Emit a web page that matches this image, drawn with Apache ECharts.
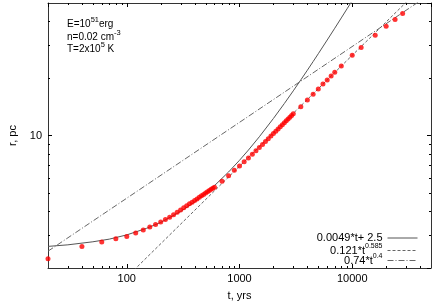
<!DOCTYPE html>
<html><head><meta charset="utf-8">
<script src="https://cdn.jsdelivr.net/npm/echarts@6/dist/echarts.min.js"></script>
<style>html,body{margin:0;padding:0;background:#fff}#c{width:436px;height:305px}</style>
</head><body><div id="c"></div>
<script>
// simulation points: time (yrs) and radius (pc)
const tYears = [20,40,60,80,100,120,140,160,180,200,220,240,260,280,300,320,340,360,380,400,420,440,460,480,500,520,540,560,580,600,
  700,800,900,1000,1100,1200,1300,1400,1500,1600,1700,1800,1900,2000,2100,2200,2300,2400,2500,2600,2700,2800,2900,3000,
  3500,4000,4500,5000,5500,6000,6500,7000,8000,10000,12000,16000,20000,24000,28000];
const rPc = [2.24,2.60,2.74,2.85,2.93,3.06,3.17,3.29,3.39,3.50,3.61,3.71,3.82,3.94,4.05,4.16,4.26,4.36,4.45,4.54,4.63,4.72,4.81,4.89,4.97,5.05,5.12,5.20,5.27,5.34,
  5.73,6.14,6.55,6.91,7.26,7.62,7.96,8.30,8.64,8.96,9.30,9.62,9.93,10.24,10.53,10.83,11.12,11.40,11.68,11.95,12.22,12.48,12.75,13.02,
  14.19,15.38,16.48,17.58,18.68,19.62,20.60,21.54,23.26,26.50,29.11,33.82,37.73,40.95,44.05];

// fit curves (sampled values)
const tLinear = [20,30,50,70,100,150,200,300,400,500,600,800,1000,1200,1500,2000,2500,3000,3500,4000,4500,5000,6000,7000,8000,9000,10000];
const rLinear = [2.60,2.65,2.75,2.84,2.99,3.24,3.48,3.97,4.46,4.95,5.44,6.42,7.40,8.38,9.85,12.30,14.75,17.20,19.65,22.10,24.55,27.00,31.90,36.80,41.70,46.60,51.50];
const tPow585 = [100, 50000];
const rPow585 = [1.79, 67.9];
const tPow04 = [20, 50000];
const rPow04 = [2.453, 56.1];

const seriesNames = ['0.0049*t+ 2.5', '0.121*t^0.585', '0.74*t^0.4'];
const legendRich = ['{n|0.0049*t+ 2.5}', '{n|0.121*t}{s|0.585}', '{n|0.74*t}{s|0.4}'];
const noteLines = ['{n|E=10}{s|51}{n|erg}', '{n|n=0.02 cm}{s|-3}', '{n|T=2x10}{s|5}{n| K}'];

const xTickLabels = [100, 1000, 10000];
const yTickLabels = [10];
const xMinorTicks = [30,40,50,60,70,80,90,200,300,400,500,600,700,800,900,2000,3000,4000,5000,6000,7000,8000,9000,20000,30000,40000];
const yMinorTicks = [3,4,5,6,7,8,9,20,30,40];

const X_MIN = 20, X_MAX = 50000, Y_MIN = 2, Y_MAX = 50;
const FONT = 'Liberation Sans, Arial, sans-serif';
const zip = (a, b) => a.map((v, i) => [v, b[i]]);

const legendRichStyles = {
  n: {fontFamily: FONT, fontSize: 11, lineHeight: 16, verticalAlign: 'middle', color: '#000'},
  s: {fontFamily: FONT, fontSize: 7, lineHeight: 7, verticalAlign: 'top', color: '#000'}
};
const noteRichStyles = {
  n: {fontFamily: FONT, fontSize: 10, lineHeight: 15.5, verticalAlign: 'middle', fill: '#000'},
  s: {fontFamily: FONT, fontSize: 7.5, lineHeight: 7.5, verticalAlign: 'top', fill: '#000'}
};

function tickRenderer(isX) {
  return function (params, api) {
    const v = api.value(isX ? 0 : 1);
    const L = 2;
    let a, b;
    if (isX) {
      a = api.coord([v, Y_MIN]); b = api.coord([v, Y_MAX]);
      const x = Math.round(a[0]) + 0.5;
      return {type: 'group', children: [
        {type: 'line', shape: {x1: x, y1: a[1], x2: x, y2: a[1] - L}, style: {stroke: '#000', lineWidth: 1}},
        {type: 'line', shape: {x1: x, y1: b[1], x2: x, y2: b[1] + L}, style: {stroke: '#000', lineWidth: 1}}
      ]};
    } else {
      a = api.coord([X_MIN, v]); b = api.coord([X_MAX, v]);
      const y = Math.round(a[1]) + 0.5;
      return {type: 'group', children: [
        {type: 'line', shape: {x1: a[0], y1: y, x2: a[0] + L, y2: y}, style: {stroke: '#000', lineWidth: 1}},
        {type: 'line', shape: {x1: b[0], y1: y, x2: b[0] - L, y2: y}, style: {stroke: '#000', lineWidth: 1}}
      ]};
    }
  };
}

const axisCommon = {
  type: 'log', logBase: 10,
  splitLine: {show: false},
  axisTick: {show: true, inside: true, length: 4, lineStyle: {color: '#000'}},
  axisLine: {show: true, lineStyle: {color: '#333', width: 1}},
  nameTextStyle: {fontFamily: FONT, fontSize: 11, color: '#000'}
};

const legendTops = [232.5, 242.5, 252.5];
const legends = seriesNames.map((name, i) => ({
  orient: 'vertical', align: 'right', right: 18, top: legendTops[i], padding: 0,
  itemWidth: 30, itemHeight: 8, itemGap: 0, selectedMode: false,
  data: [{name: name}],
  itemStyle: {opacity: 0, borderWidth: 0},
  lineStyle: {width: 1},
  formatter: () => legendRich[i],
  textStyle: {fontFamily: FONT, fontSize: 11, color: '#000', rich: legendRichStyles}
}));

const chart = echarts.init(document.getElementById('c'), null, {renderer: 'canvas'});
chart.setOption({
  animation: false,
  backgroundColor: '#fff',
  grid: {left: 48, right: 5, top: 3, bottom: 37, containLabel: false, outerBoundsMode: 'none'},
  xAxis: [
    Object.assign({}, axisCommon, {
      position: 'bottom', min: X_MIN, max: X_MAX,
      name: 't, yrs', nameLocation: 'middle', nameGap: 22,
      axisLabel: {show: true, margin: 5, fontFamily: FONT, fontSize: 11, color: '#000', showMinLabel: false, showMaxLabel: false,
        formatter: v => { const r = Math.round(v); return xTickLabels.includes(r) ? String(r) : ''; }}
    }),
    Object.assign({}, axisCommon, {position: 'top', min: X_MIN, max: X_MAX, axisLabel: {show: false}})
  ],
  yAxis: [
    Object.assign({}, axisCommon, {
      position: 'left', min: Y_MIN, max: Y_MAX,
      name: 'r, pc', nameLocation: 'middle', nameGap: 30,
      axisLabel: {show: true, margin: 6, fontFamily: FONT, fontSize: 11, color: '#000', showMinLabel: false, showMaxLabel: false,
        formatter: v => { const r = Math.round(v); return yTickLabels.includes(r) ? String(r) : ''; }}
    }),
    Object.assign({}, axisCommon, {position: 'right', min: Y_MIN, max: Y_MAX, axisLabel: {show: false}})
  ],
  legend: legends,
  graphic: noteLines.map((txt, i) => ({
    type: 'text', left: 67, top: [16, 29.3, 41][i],
    style: {text: txt, rich: noteRichStyles, fill: '#000'}
  })),
  series: [
    {name: seriesNames[0], type: 'line', data: zip(tLinear, rLinear), showSymbol: false, symbol: 'none', clip: true,
      lineStyle: {color: '#555', width: 1, type: 'solid'}, itemStyle: {color: '#555'}, z: 2},
    {name: seriesNames[1], type: 'line', data: zip(tPow585, rPow585), showSymbol: false, symbol: 'none', clip: true,
      lineStyle: {color: '#666', width: 1, type: [3, 2]}, itemStyle: {color: '#666'}, z: 2},
    {name: seriesNames[2], type: 'line', data: zip(tPow04, rPow04), showSymbol: false, symbol: 'none', clip: true,
      lineStyle: {color: '#666', width: 1, type: [6, 2, 1, 2]}, itemStyle: {color: '#666'}, z: 2},
    {name: 'sim', type: 'scatter', data: zip(tYears, rPc), symbol: 'circle', symbolSize: 5,
      itemStyle: {color: '#ff0000'}, z: 3},
    {name: 'xminor', type: 'custom', data: xMinorTicks.map(v => [v, Y_MIN]), renderItem: tickRenderer(true), z: 4, silent: true},
    {name: 'yminor', type: 'custom', data: yMinorTicks.map(v => [X_MIN, v]), renderItem: tickRenderer(false), z: 4, silent: true}
  ]
});
</script></body></html>
